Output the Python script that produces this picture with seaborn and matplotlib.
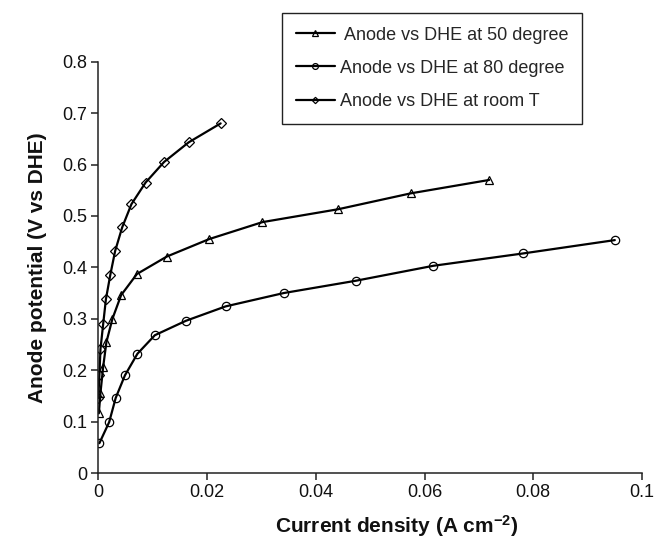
import matplotlib
matplotlib.use("Agg")
import matplotlib.pyplot as plt
import seaborn as sns
import pandas as pd
from matplotlib.ticker import FuncFormatter

# Polarisation data: current density (A cm^-2) vs anode potential (V vs DHE)
t50_x = [0.0001, 0.0004, 0.0009, 0.0015, 0.0026, 0.0042, 0.0071, 0.0126,
         0.0204, 0.0302, 0.0441, 0.0575, 0.0719]
t50_y = [0.116, 0.156, 0.207, 0.255, 0.300, 0.346, 0.387, 0.421,
         0.455, 0.488, 0.513, 0.544, 0.570]

t80_x = [0.0002, 0.0020, 0.0032, 0.0049, 0.0072, 0.0104, 0.0161, 0.0234,
         0.0341, 0.0474, 0.0616, 0.0781, 0.0950]
t80_y = [0.058, 0.099, 0.146, 0.190, 0.232, 0.268, 0.296, 0.324,
         0.350, 0.374, 0.403, 0.427, 0.453]

rt_x = [0.0000, 0.0002, 0.0004, 0.0009, 0.0014, 0.0022, 0.0031, 0.0044,
        0.0061, 0.0087, 0.0121, 0.0166, 0.0225]
rt_y = [0.146, 0.190, 0.241, 0.290, 0.338, 0.385, 0.432, 0.478,
        0.523, 0.565, 0.605, 0.643, 0.680]

series_labels = [" Anode vs DHE at 50 degree", "Anode vs DHE at 80 degree",
                 "Anode vs DHE at room T"]
x_ticks = [0, 0.02, 0.04, 0.06, 0.08, 0.1]
y_ticks = [0, 0.1, 0.2, 0.3, 0.4, 0.5, 0.6, 0.7, 0.8]

sns.set_theme(style="white")
plt.rcParams["font.family"] = ["Liberation Sans", "DejaVu Sans"]
plt.rcParams["mathtext.fontset"] = "custom"
plt.rcParams["mathtext.rm"] = "Liberation Sans:bold"
plt.rcParams["mathtext.it"] = "Liberation Sans:bold"
plt.rcParams["mathtext.bf"] = "Liberation Sans:bold"

W, H = 657, 539
fig = plt.figure(figsize=(W / 100, H / 100), dpi=100)
x0, x1, y0, y1 = 98.3, 642.0, 473.0, 61.7
ax = fig.add_axes([x0 / W, 1 - y0 / H, (x1 - x0) / W, (y0 - y1) / H])

styles = [("^", 6.0), ("o", 6.0), ("D", 4.6)]
for (xs, ys, lab), (mk, ms) in zip(
        [(t50_x, t50_y, series_labels[0]),
         (t80_x, t80_y, series_labels[1]),
         (rt_x, rt_y, series_labels[2])], styles):
    df = pd.DataFrame({"x": xs, "y": ys})
    sns.lineplot(data=df, x="x", y="y", ax=ax, color="black", lw=1.6,
                 marker=mk, markersize=ms, markerfacecolor="none",
                 markeredgecolor="black", markeredgewidth=0.9,
                 estimator=None, sort=False, label=lab)

ax.set_xlim(0, 0.1)
ax.set_ylim(0, 0.8)
ax.set_xticks(x_ticks)
ax.set_yticks(y_ticks)
fmt = FuncFormatter(lambda v, _: "0" if abs(v) < 1e-12 else f"{v:g}")
ax.xaxis.set_major_formatter(fmt)
ax.yaxis.set_major_formatter(fmt)

for side in ["top", "right"]:
    ax.spines[side].set_visible(False)
for side in ["left", "bottom"]:
    ax.spines[side].set_color("#222222")
    ax.spines[side].set_linewidth(1.1)
ax.tick_params(axis="both", which="major", direction="out", length=5,
               width=1.1, color="#222222", labelsize=13, labelcolor="#111111",
               bottom=True, left=True, pad=3)

ax.set_xlabel("Current density (A cm$^{-2}$)", fontsize=15, fontweight="bold",
              color="#111111")
ax.set_ylabel("Anode potential (V vs DHE)", fontsize=15, fontweight="bold",
              color="#111111")
ax.xaxis.set_label_coords(0.549, -0.098)
ax.yaxis.set_label_coords(-0.095, 0.5)

leg = ax.legend(loc="upper left", bbox_to_anchor=(282 / W, 1 - 13 / H),
                bbox_transform=fig.transFigure, fontsize=13, frameon=True,
                fancybox=False, edgecolor="#222222", framealpha=1,
                handlelength=2.2, handletextpad=0.25, labelspacing=0.9,
                borderpad=0.75, borderaxespad=0, markerscale=0.7)
leg.get_frame().set_linewidth(1.0)

fig.savefig("out.png", dpi=100)
